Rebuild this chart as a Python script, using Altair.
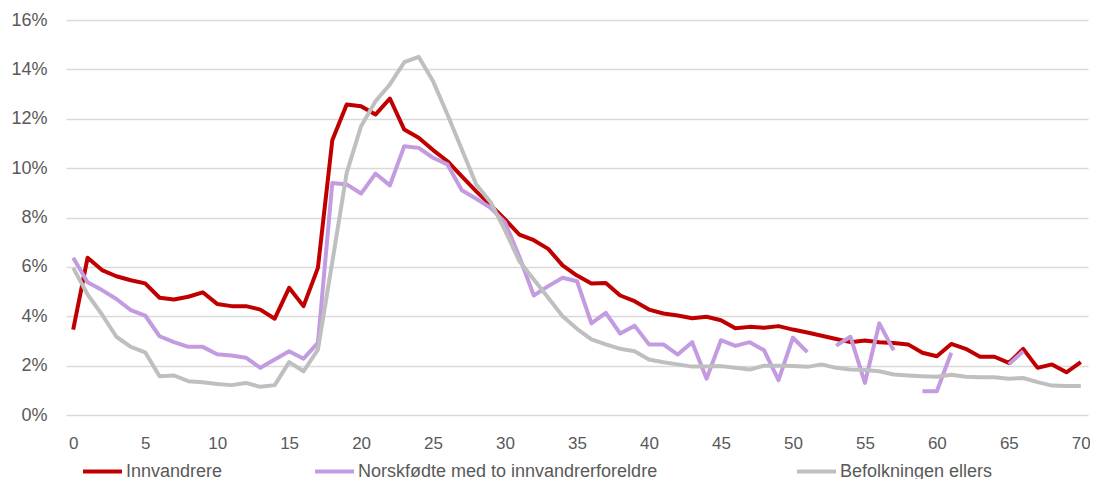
import altair as alt
import pandas as pd

ages = list(range(0, 71))

innvandrere = [
    3.46, 6.37, 5.87, 5.62, 5.46, 5.33, 4.75, 4.68, 4.79, 4.97,
    4.50, 4.41, 4.41, 4.27, 3.90, 5.15, 4.41, 5.96, 11.13, 12.58,
    12.51, 12.17, 12.82, 11.56, 11.23, 10.73, 10.28, 9.67, 9.06, 8.50,
    7.92, 7.31, 7.08, 6.73, 6.06, 5.65, 5.33, 5.35, 4.84, 4.61,
    4.27, 4.11, 4.03, 3.92, 3.98, 3.84, 3.51, 3.57, 3.53, 3.60,
    3.46, 3.34, 3.21, 3.08, 2.95, 3.02, 2.95, 2.92, 2.86, 2.52,
    2.38, 2.88, 2.68, 2.36, 2.36, 2.11, 2.68, 1.91, 2.05, 1.73,
    2.14,
]

norskfodte = [
    6.37, 5.38, 5.06, 4.70, 4.25, 4.03, 3.19, 2.95, 2.76, 2.76,
    2.46, 2.41, 2.32, 1.91, 2.25, 2.58, 2.28, 2.92, 9.40, 9.34,
    8.97, 9.78, 9.30, 10.89, 10.82, 10.42, 10.15, 9.10, 8.76, 8.39,
    7.80, 6.40, 4.84, 5.22, 5.56, 5.42, 3.71, 4.14, 3.30, 3.62,
    2.86, 2.86, 2.45, 2.95, 1.47, 3.03, 2.80, 2.95, 2.62, 1.41,
    3.13, 2.55, None, 2.81, 3.17, 1.30, 3.71, 2.62, None, 0.96,
    0.96, 2.52, None, None, None, 2.05, 2.58, None, None, None,
    None,
]

befolkningen = [
    5.96, 4.88, 4.07, 3.17, 2.76, 2.54, 1.57, 1.60, 1.37, 1.33,
    1.26, 1.21, 1.30, 1.14, 1.21, 2.14, 1.77, 2.65, 6.20, 9.81,
    11.70, 12.71, 13.39, 14.29, 14.51, 13.52, 12.17, 10.75, 9.34, 8.62,
    7.48, 6.23, 5.49, 4.75, 4.00, 3.49, 3.06, 2.86, 2.68, 2.58,
    2.25, 2.14, 2.05, 1.96, 1.96, 1.98, 1.91, 1.84, 2.00, 2.00,
    1.98, 1.95, 2.05, 1.91, 1.84, 1.82, 1.77, 1.64, 1.60, 1.57,
    1.55, 1.63, 1.55, 1.53, 1.53, 1.47, 1.50, 1.33, 1.19, 1.17,
    1.17,
]

series_names = [
    "Innvandrere",
    "Norskfødte med to innvandrerforeldre",
    "Befolkningen ellers",
]
series_values = [innvandrere, norskfodte, befolkningen]
series_colors = ["#C00000", "#C39BE1", "#BFBFBF"]
legend_x = [15, 247, 729]

x_ticks = list(range(0, 71, 5))
y_ticks = list(range(0, 17, 2))

FONT = "Liberation Sans"
TEXT_COLOR = "#595959"

layers = []
for i, (name, vals, col) in enumerate(zip(series_names, series_values, series_colors)):
    df = pd.DataFrame({"alder": ages, "andel": vals, "serie": name})
    x_enc = alt.X(
        "alder:Q",
        scale=alt.Scale(domain=[-0.5, 70.5], nice=False, zero=False),
        axis=alt.Axis(
            values=x_ticks,
            grid=False,
            domain=False,
            ticks=False,
            labelPadding=20,
            labelFont=FONT,
            labelFontSize=17,
            labelColor=TEXT_COLOR,
            title=None,
        ),
    )
    y_enc = alt.Y(
        "andel:Q",
        scale=alt.Scale(domain=[0, 16], nice=False),
        axis=alt.Axis(
            values=y_ticks,
            labelExpr="datum.value + '%'",
            grid=True,
            gridColor="#D9D9D9",
            gridWidth=1.3,
            domain=False,
            ticks=False,
            labelPadding=19,
            labelFont=FONT,
            labelFontSize=18,
            labelColor=TEXT_COLOR,
            title=None,
        ),
    )
    color_enc = alt.Color(
        "serie:N",
        scale=alt.Scale(domain=[name], range=[col]),
        legend=alt.Legend(
            title=None,
            orient="none",
            legendX=legend_x[i],
            legendY=430,
            symbolType="stroke",
            symbolSize=1521,
            symbolStrokeWidth=4,
            labelOffset=2,
            labelLimit=500,
            labelFont=FONT,
            labelFontSize=18,
            labelColor=TEXT_COLOR,
            padding=0,
        ),
    )
    layer = (
        alt.Chart(df)
        .mark_line(strokeWidth=4, strokeJoin="round", invalid="break-paths-show-domains")
        .encode(x=x_enc, y=y_enc, color=color_enc)
    )
    layers.append(layer)

chart = (
    alt.layer(*layers)
    .resolve_scale(color="independent")
    .properties(
        width=1022,
        height=395,
        padding={"left": 58, "top": 12, "right": 2, "bottom": 64},
        autosize=alt.AutoSizeParams(type="none"),
        background="white",
    )
    .configure_view(stroke=None)
)

chart.save("out.html", embed_options={"renderer": "svg", "actions": False})
